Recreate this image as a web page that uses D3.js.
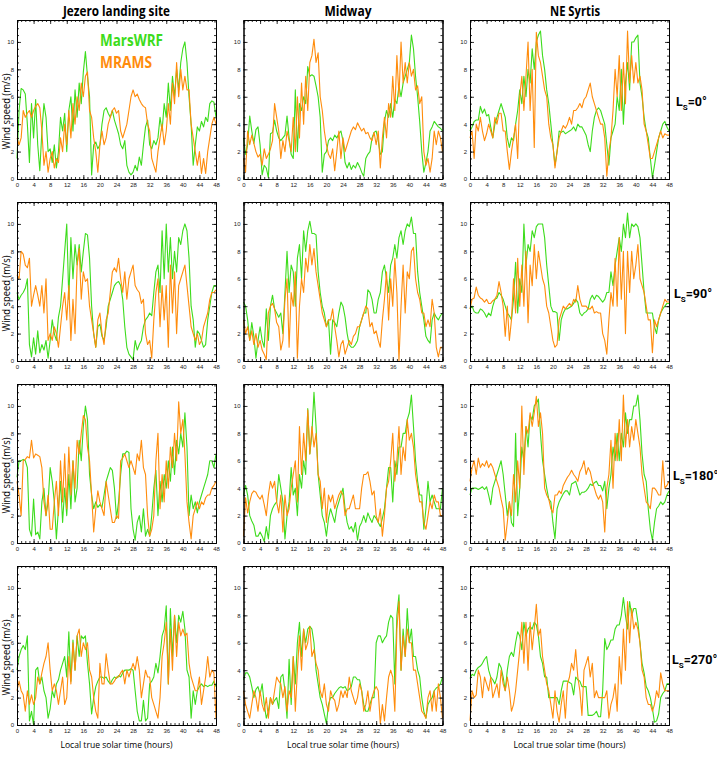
<!DOCTYPE html>
<html><head><meta charset="utf-8">
<script src="https://cdn.jsdelivr.net/npm/d3@7"></script>
<style>body{margin:0;background:#fff}</style>
</head><body>
<svg id="c" width="717" height="770"></svg>
<script>
const sites = ["Jezero landing site", "Midway", "NE Syrtis"];
const seasons = ["0°", "90°", "180°", "270°"];
const xTicks = [0, 4, 8, 12, 16, 20, 24, 28, 32, 36, 40, 44, 48];
const yTicks = [0, 2, 4, 6, 8, 10];
const seriesNames = ["MarsWRF", "MRAMS"];
const xTitle = "Local true solar time (hours)";
const yTitle = "Wind speed (m/s)";
const hours = d3.range(97).map(i => i * 0.5);

const wrfJez0 = [1.5,5,6.6,6.5,6.2,4,1.2,5.5, 3,5.8,2.5,0.6,3.5,5.5,4.5,2, 2.2,1.2,2.5,0.8,2,4.5,3.5,4.8, 2,5,6,3.5,6.5,4.5,7,5.5, 7.8,9.3,7.5,6,0.3,2.5,2.7,2.2, 2.5,4,5,5.2,4.8,4.5,5,4.3, 3.8,3.3,2.5,2.2,2.8,1,0.5,0.3, 0.5,1,0.6,1.6,1,2.5,3.8,4.3, 2.5,2.2,2.8,2.5,3,4.5,3.5,5.5, 4.5,7,5,7.5,6,8,6.5,8.5, 9.5,10,8.5,6,4,1,2.5,3.8, 3.5,4.2,3.8,4.5,4.2,5.5,5.7,5.6, 4.5];
const mramsJez0 = [3,2.5,3,5,4.5,4.8,5,4.5, 5,5.3,5.5,5.2,3.5,1,2,0.5, 1.5,2,0.8,1.5,1.2,3,2,4, 2.5,5,3,5.5,4,6,5,7, 6,7.5,7.8,5,4.5,3,2,0.5, 2.5,3.5,2.5,3,4,4.5,5,5.2, 4.8,5,3.5,3,3.5,4,5,6, 6.5,6,6.2,5.8,5.5,5.3,5.2,4, 3.5,1.5,1,0.5,2,3,4,2.5, 3.5,5.5,4,7,5.5,8.5,6,8, 6.5,7.5,6.5,6.5,4,3,2,1, 2,0.4,1.5,0.4,2,3,4,4.5, 4];
const wrfMid0 = [3,1.8,2.5,4.6,3.5,2.6,3.6,3.8, 2.5,0.3,1,0.8,0.1,3.3,3.4,4.3, 3.5,3,2.8,3,3.2,4.6,3,1.8, 1.5,6.5,2,5.5,5,6,5.5,8.2, 7.5,7.6,7.5,6.8,6,4.5,0.5,1.8, 2,2.8,3,2.8,3.2,3,3.3,3.5, 2.8,1.2,0.8,1.2,0.7,1,0.8,1.2, 0.9,0.5,0.2,1.5,1.8,2,3,3.4, 3.5,2.8,1.8,2,4.2,5,4.5,5.5, 4.5,5.8,5.5,6.8,6,7,7.5,8, 8.5,10.5,9.5,7.5,6,4.2,2,0.5, 1.2,2,3.5,3.8,4.2,4,3.8,3.7, 3.5];
const mramsMid0 = [1.5,0.5,3.5,2.5,3.2,2.6,2,1.6, 1.8,1,2.2,1.5,1.8,2.2,2.8,5.5, 4.5,3.5,1.5,2.8,2,3.5,2.8,2, 4.5,2,6,3,7,4,7.5,5, 8.5,9,10.2,8.5,9.2,6,5,3.5, 2.5,1.8,1.5,2.2,0.6,2,3.5,1.5, 3,2,2.5,3,3.5,3.8,3.6,4.1, 3.8,3.5,3.7,3.3,3.4,3,2.8,3.4, 2.5,3.5,0.8,3,4.5,3,5.5,4.5, 7.5,5,9,6,10,7,8.5,7, 8.5,7.5,8,6.5,6.8,5.5,6,2, 1,1.5,0.5,1.5,3.5,2.5,3.5,3, 2];
const wrfNes0 = [3.5,3.8,4.2,4.3,4.3,5.3,4.8,5.1, 4.6,4.7,3.8,3,4,4.5,5,5.5, 5,4.5,3,2.3,3,2.8,4,5, 6.5,5.5,7.5,6,8,7,9.5,8, 10,10.5,10.8,9,8,6.5,5.5,4, 2.5,1,2,3.5,3.4,3.5,3.3,3.4, 3.5,3.6,3.8,3.5,4,3.8,3.8,3.5, 3.2,2.5,2,3.5,4.5,5,5.2,5, 4.5,4,2.5,1,3,3.5,4,6, 5,8,4,7,8.5,6.5,10,10, 10.3,10.5,7,6,4.5,3.5,3,1.5, 0.1,1,2,3,3.5,4,4.2,3.8, 3.5];
const mramsNes0 = [3,3.5,1.5,4,3.5,4.5,3.5,2.8, 3.3,4,3.5,3,4.5,4,4.8,4.8, 3.5,3.5,2,0.7,2,3,4,1.5, 6,7.5,5,7.5,10,5,8,2.3, 10.7,9,8.5,7.5,6.5,6,4,3, 2.5,0.8,2,3,3.5,3.9,3.7,4, 4.5,4,5,5,5.2,5.5,5.2,5.8, 6,6.5,7,6,5.5,5,4.5,4, 4,3,0.2,2,3,5,8,6, 9,5,8.5,5.5,10.8,7,9,7, 8.5,7,7.5,6.5,4,3.5,2.5,1.5, 1.5,2,2.5,3,3.5,3,3.3,3.2, 3.2];

const wrfJez90 = [5,4.5,4.8,5,5.3,6,1.2,0.3, 1.7,0.5,2.2,0.6,1.2,0.8,1.5,0.2, 1.5,3,2,1.5,3.2,4,6,8, 10,4.5,9,6,8.5,7,8.5,6.5, 8,9.3,9.2,7.5,4,2,1,2.5, 2.7,1.8,1.5,2.5,4,4.5,5,5.5, 5.7,5.8,5.5,4.5,2.5,1,0.5,0.3, 0.1,1.5,0.8,1.2,1.5,2.5,3,3.2, 3.5,3.3,5,6.5,7,5,9.5,6, 10,6.5,9,6,8,6.5,9,8.5, 9.5,10,9.5,7.5,4,3,1,2.2, 2,1.5,1,1.2,3,4,5,5.5, 5.5];
const mramsJez90 = [6.3,6,8,7.8,7,6.8,7.5,4, 4.8,5.5,4.8,4,5.5,3.5,6,1.5, 2,1.5,2.5,2,1,2.5,4,5, 3,5.5,1.5,4.5,2,7,8.2,4.5, 6.5,5.8,6,4,3,2,1,3, 3.5,2,1.2,3,3.5,5,6.5,6.8, 6.5,7.5,6,5,6.5,4.5,6,6.5, 7,5.5,5.2,5,4.2,4.5,2,1.2, 1.5,0.2,3,5,6,2.5,5.5,3, 5.5,1,7,3.5,6.5,2,5.5,6, 6.5,7,5.5,4,2.5,2,1.5,2, 1.2,1.5,2.5,3,3.5,4.5,5,5, 5.2];
const wrfMid90 = [4.3,4,3,1.5,2.8,1.8,0.2,1.5, 2.5,1.5,1,3.8,1.5,4,4.8,3.8, 3.5,3.2,3.5,2,5,8,5,7, 6.5,4,7.5,8.5,6,9.5,8,9.5, 10.2,9.3,9.3,9.2,6.5,5,4,3.5, 2.5,3,0.5,3,2.8,2.5,3.5,4.3, 4,3.2,2,1.2,1,1,1.2,1.5, 2.5,3,3.5,3.5,5.2,5,4.5,3.5, 3.5,4.5,5,6.5,7,6,5,7, 7.5,8.5,7.5,9,9.5,8.5,9.5,10, 9.8,10.5,9.3,9.3,6.5,5,4,3, 1.8,1.5,1.3,3,3.5,3.2,3,3.3, 3.5];
const mramsMid90 = [3,2,2.5,1.5,2.2,1.2,2,1, 1.5,0.8,0.5,0.1,3.5,4,4.2,3.8, 2.8,2.5,0.8,1.5,4.5,6,1,5, 4,6.5,0.2,4,6,5,7.5,6.5, 8.5,7,8.2,6.5,5.5,4.5,3.5,3, 2.5,3,3,3.8,2.5,1.5,0.3,1.2, 1.5,0.5,1,1.5,1.2,1.8,2,2.5, 2.5,3,3.5,4,3.8,2.5,2.8,2, 2.2,1.5,1,3,4.5,6.5,3,6, 4,7.5,5,0,4,7,3.5,6.5, 6,8,8.3,6,5,4.5,3.5,3.5, 2.5,3,2.5,4.5,3.5,1,0.3,1, 1];
const wrfNes90 = [3.8,4,3.6,3.5,3.5,3.8,3.7,3.5, 3.2,3.5,3.3,4,4.5,4.6,5,4.8, 4.5,4,3.5,3.3,3,4.5,7.2,3.5, 6,5,10,7,8.5,8,9.5,9, 9.8,10,10,10,9,7,5.5,4, 3.6,3.6,3.5,1.5,3,3.5,3.8,3.8, 3.9,4,4.2,4.5,4.3,3.5,3.3,3.5, 3.6,3.8,4.5,4.8,4.5,4.8,4.7,4.5, 4.3,4.5,5,5,6.5,5.5,7,8, 9,8,10,9,10.8,9,10,9.8, 10,9.8,9,7,5,3.5,3.5,3.5, 3.5,2.5,2,3,3.5,3.8,4,4.2, 4.2];
const mramsNes90 = [3.8,4.5,4.6,5.4,4.8,4.6,4.5,4.3, 4.5,4.2,4.2,4.4,4.5,4.8,5.8,5, 4,1.8,4,1.5,3,6,3.5,7.5, 4,7,4,8,2.8,7,5.5,8.5, 6,8,7,6,5.5,4,3.5,2.5, 1.5,1,1.2,3,3.5,4,3.8,4, 4.2,4,4.5,4.3,5.5,4.5,4,4, 4,3.8,3.8,4,3.5,3.6,3.5,3.5, 2,1.5,0.5,3,5,4,7.5,4, 9,4.5,8,2,8,5,8,6, 7,8.5,6,5.5,5,4,3,3, 0.6,3,2.5,3,3.5,4,4.5,4.3, 4.3];

const wrfJez180 = [4.8,6,6,6.1,6,5.5,1,0.5, 3.2,0.6,0.8,0.3,3,4,2,3, 5.5,4.5,3,0.3,2.5,4.5,1.5,4, 2,5,2.5,6,3,4,7.5,6, 8.5,10,9,5,3.5,2.5,3,2.6, 2.8,2.6,3.5,4.5,5,5.5,5.3,4, 1.8,3,5,6.5,6.5,6.7,6.6,2.5, 1,0.2,1.5,2,0.8,2.5,0.5,1, 0.5,2,4,5.3,2,4.5,3,5, 4,6,4.5,7,5,7.5,6.5,8, 7,9.5,7,2,3.5,2.5,3,2.2, 3,3.5,4,4.5,5,6,6,5.5, 6.5];
const mramsJez180 = [4.5,3.5,2,6,6.1,6.3,6.2,7.5, 6.2,6.5,6.4,6.3,5.5,3,2,3.5, 1,1,3,4.5,2,6,3,6.5, 2.5,7,3.5,6,4,7.5,6.5,8, 9.3,9,7,6,3.5,0.8,2.5,3.8, 3,2.5,2,4.5,3.5,2.5,1.5,1.5, 2,1.8,6,6.2,6.5,6,5.5,6, 5.5,5,6.5,6,7.5,5.5,5,2, 0.5,1,2,6,8,2.5,5,3, 6,4,7,5.5,8,6,10.3,8, 9,6.5,3,1.5,0.3,2,2.5,3, 2.5,3,2.8,3.3,3.5,3.5,4,4.2, 4.5];
const wrfMid180 = [3.5,4.2,3.5,2,1.6,1.3,0.5,0.5, 0.8,0.5,0.1,1.2,0.3,2,2.5,2.8, 3,5,4,3,0.3,2,3,5.5, 3.5,4,2,5,4,6,5,9.8, 6.5,8,11,8.5,5,3.5,2,1.5, 0.5,1.8,2.5,2,1.5,2.5,3,3.5, 4,2.5,1.5,1,1.2,0.8,1.5,0.2, 1.2,1.5,2,1.5,2.2,1.8,1.5,2, 1.8,1.5,1.2,1.8,2.5,4,5.5,5.5, 3,6,5,7,7,8,8,9, 9.5,10.8,8.5,6,4.5,3.5,3.5,1, 2.5,4.5,3,3.5,3,2.5,2.5,2.5, 4];
const mramsMid180 = [0.5,3.3,2.2,3,3.6,3.8,3.7,3.4, 3.2,3.5,2.8,2,3.5,4.5,4,4.5, 3,2.2,3.5,0.8,3.5,2,2.5,4, 5,6,3,8.5,5,8,6,9.7, 6.5,8.5,7,8,5,4.5,2.5,4, 1.5,3.5,3,3.5,2.5,3,3.5,3.8, 3.5,2,2.5,2.5,3,3.5,2.5,2.5, 2.5,4,5,5,5.2,4.5,3.5,3.8, 2,1.5,2.5,0.5,2,4,4.5,6, 8,4.5,6,8.5,5,7,6,9, 7.5,8,7,5,4,3,3,1.5, 1,2,3,2.5,3.5,3,3,2, 2];
const wrfNes180 = [3.5,4,4,4,3.9,4,4.1,3.9, 4.1,3.5,2.8,4,4.5,5,5.5,6, 5,3.5,2,3,1.5,1.2,8,2, 4,7,6,8.5,7,9.3,9,10, 10.2,10.5,8,6,5,4,3.2,3, 1.5,0.3,2.5,3,3.3,3.6,3.8,3.8, 3.5,4.3,4.4,4.5,4,3.5,3.7,3.7, 3.8,4,4.3,4.2,4.4,4.5,4.2,4.2, 3.8,4.5,2.5,4,5,7,6,8, 6,8,7,9.5,8,9,9,10, 10,10.8,9,6.5,5,4.5,2.5,1, 0.2,1.5,2.5,2.7,3,2.8,3,3.5, 3.8];
const mramsNes180 = [4.5,5.5,6,5,6.2,5.5,5.8,5.6, 6,5.5,5.8,5.5,5,4.5,4,3.2, 2.5,0.2,1.5,3,2,5,3,6, 4,10,5,8.5,8,9.5,8.5,9.5, 10.7,8.5,9.5,8,4,3.5,3.2,2.5, 2.2,3.5,3.5,3.8,3.6,4.2,4.5,4.8, 5,5.3,5,4.8,4.5,5.2,5.5,6, 5,5.5,5.2,4.5,4,3.5,3.2,3.5, 3,0.8,4,5,7.5,4,8,6, 9,6,10.8,7,9,7,8.5,7.5, 9,8,7,5,4,3,2.8,2.5, 4,4,3.8,3.5,3.5,6,4,4.2, 4.5];

const wrfJez270 = [4,5,5.5,5.8,5.5,6.5,0.3,1, 0,4,4.2,3,3.5,2.5,2,0.5, 1.2,2.5,2,3,3.3,4,4.5,5, 3.5,6.8,3.2,6.2,4,6.5,5,6.5, 6.3,6.5,4.5,3,0.8,2,2.8,3.2, 3.5,3.5,3.4,3.5,3.2,3,3.3,3.5, 3.4,3.6,3.5,3.8,4,4,4,4.1, 4,2.5,1,0.3,0.3,1.8,0.3,0.5, 3,3.2,3.5,4.5,3.8,5,6.5,7, 8.7,3,8.5,5,8,6,8,7.5, 8.3,7,4,3.5,0.5,2.5,1.5,2.5, 2.8,3,2.8,2.9,2.8,2.9,2.9,3.2, 2.8];
const mramsJez270 = [2.5,3.2,2.5,2.2,1,2.5,1.5,2.2, 1.5,2,3.5,3,3.8,4.5,5,6, 4,2.5,3,2.5,1.5,2.5,3.5,1.5, 2,5,3,6,4,6.5,7,5, 6,5.5,6,4,3.5,2,1,0.5, 4.5,3,3,5.2,4,3,3,3.2, 3.5,3.5,3.8,4,3,4,3.5,4, 4.5,4,5,4,2,3,4,3.5, 3.5,2,1.5,1,0.5,2,5,6, 7.5,3,7,4,8,5,7.5,6.5, 7,6.5,6.7,4.5,3.5,3,2.5,2.5, 3.5,1.5,2.5,3.5,5,3.5,4,3.8, 0.5];
const wrfMid270 = [3.3,3.8,3.8,3.5,2.8,2,2.6,2.8, 2.2,3,1.5,0.5,1,2,1.5,1.8, 2,1.2,3.5,3.7,2.5,0.5,4.8,1.5, 5,3,6,7.5,5,7,6,7, 7.2,7,6,4,3,2,1.5,0.8, 0.1,1.5,2,2,2.3,2.5,2.7,2.8, 2.7,2.8,2.5,2.6,2.8,3.5,3.5,3.3, 3.3,2.5,1.5,1,1,1.5,2,2, 6,6.5,6.5,6,6.3,6.5,7.5,8, 7.8,3,8,9.5,4,7,5,8.5, 6,7,5,5,4,3.5,2,1, 0.5,1.5,1.8,2,2.5,2.7,2.8,3, 3.5];
const mramsMid270 = [2.5,1.5,1,0.5,1.5,2.5,2,1, 2.5,1.5,1,2,0.5,2,1.5,2.5, 3.5,3.2,3,2,2.8,1,2.5,2, 5,1,4,6.5,4,7,5.5,6, 7.2,5,5.5,4.5,4,2.5,2,3, 1.5,1,2.5,2,1.8,1,1.5,2.5, 2,2.5,2,3.5,2.5,2,1.5,2, 3,2.5,1,1.5,2.5,1,2,2.5, 2.8,2.5,0.1,1.5,0.3,2,3.5,4, 3.5,1,7,9,4,6.5,5,7, 6,6,4,4,3,2,1,0.8, 0.5,2,2.5,1,2.5,1,3,2, 0.5];
const wrfNes270 = [3.4,3.7,3.6,4,4.2,4.3,4.5,4.8, 5,4,3.5,3.3,3,3.5,4.5,4.2, 3.5,2.5,4,5,5.3,5,6,6.8, 6.5,5.5,7.5,6.5,7,7.2,7,7.5, 7.3,6.5,5,4.5,3.5,3.5,2,2, 2,2,2,1.5,2.5,3.2,3.2,3.2, 3.1,3,2.2,3.5,3.3,3.2,2.8,2.8, 2.8,0.7,0.7,0.7,0.8,1,0.6,0.6, 2.5,6.3,5.5,5.8,6.2,6.2,7,7.3, 7.3,8,9.3,8,7,9,8,8.5, 8.5,7.5,6,4.5,3.8,2.8,2.5,2, 1.2,0.2,0.3,0.8,2,2.3,2.5,3, 3];
const mramsNes270 = [0.3,2.5,2,2.2,4,3.5,2,3.5, 3,2.5,3.5,2,2.5,3,2,4, 3,2.5,3.5,2.5,1,1.5,2.5,4, 5.5,7.5,4.5,7.5,4,7.5,5.5,7, 8.8,6.5,7,5,4,3,2.5,1.5, 0.5,2.5,1,0.2,1.5,2.5,0.5,3, 3.5,4.5,4,5.5,3.5,2.5,0.7,4, 4.5,5,3.5,4.5,2,2.5,2,2, 2,2,2.5,0.5,1.5,2,3,1, 5,3,7,4,9,6,8.5,7, 7.5,7,6,4,3.5,2,1.5,1.5, 1,1.5,2.5,2,3.8,3,2.5,2.5, 2.5];

const wrfData = [
  [wrfJez0, wrfMid0, wrfNes0],
  [wrfJez90, wrfMid90, wrfNes90],
  [wrfJez180, wrfMid180, wrfNes180],
  [wrfJez270, wrfMid270, wrfNes270]
];
const mramsData = [
  [mramsJez0, mramsMid0, mramsNes0],
  [mramsJez90, mramsMid90, mramsNes90],
  [mramsJez180, mramsMid180, mramsNes180],
  [mramsJez270, mramsMid270, mramsNes270]
];

const GREEN = "#3ddc1c";
const ORANGE = "#ff8c0c";
const colLeft = [17, 243.5, 470];
const rowTop = [20, 202, 384, 566];
const W = 199, H = 159, YMAX = 11.6;
const svg = d3.select("#c");
const TF = "'Open Sans', 'Liberation Sans', sans-serif";

function styleAxis(g, labels) {
  g.select(".domain").attr("stroke", "#000").attr("stroke-width", 1);
  g.selectAll(".tick line").attr("stroke", "#000").attr("stroke-width", 0.8);
  g.selectAll(".tick text").attr("font-size", 6).attr("font-family", "'Liberation Sans', sans-serif").attr("fill", "#222");
  if (!labels) g.selectAll(".tick text").remove();
}

seasons.forEach((season, r) => {
  sites.forEach((site, c) => {
    const x = d3.scaleLinear().domain([0, 48]).range([colLeft[c], colLeft[c] + W]);
    const y = d3.scaleLinear().domain([0, YMAX]).range([rowTop[r] + H, rowTop[r]]);
    const g = svg.append("g");
    const line = d3.line().x((d, i) => x(hours[i])).y(d => y(d));
    g.append("path").datum(wrfData[r][c]).attr("d", line).attr("fill", "none")
      .attr("stroke", GREEN).attr("stroke-width", 1.1).attr("stroke-linejoin", "round");
    g.append("path").datum(mramsData[r][c]).attr("d", line).attr("fill", "none")
      .attr("stroke", ORANGE).attr("stroke-width", 1.1).attr("stroke-linejoin", "round");

    const minorX = d3.range(0, 49, 1);
    const minorY = d3.range(0, YMAX, 0.5);
    g.append("g").attr("transform", `translate(0,${rowTop[r] + H})`)
      .call(d3.axisBottom(x).tickValues(minorX).tickSize(-2).tickSizeOuter(0).tickFormat(""))
      .call(a => styleAxis(a, false));
    g.append("g").attr("transform", `translate(0,${rowTop[r] + H})`)
      .call(d3.axisBottom(x).tickValues(xTicks).tickSize(-4).tickSizeOuter(0).tickPadding(4).tickFormat(d3.format("d")))
      .call(a => styleAxis(a, true));
    g.append("g").attr("transform", `translate(0,${rowTop[r]})`)
      .call(d3.axisTop(x).tickValues(minorX).tickSize(-2).tickSizeOuter(0).tickFormat(""))
      .call(a => styleAxis(a, false));
    g.append("g").attr("transform", `translate(0,${rowTop[r]})`)
      .call(d3.axisTop(x).tickValues(xTicks).tickSize(-4).tickSizeOuter(0).tickFormat(""))
      .call(a => styleAxis(a, false));
    g.append("g").attr("transform", `translate(${colLeft[c]},0)`)
      .call(d3.axisLeft(y).tickValues(minorY).tickSize(-2).tickSizeOuter(0).tickFormat(""))
      .call(a => styleAxis(a, false));
    g.append("g").attr("transform", `translate(${colLeft[c]},0)`)
      .call(d3.axisLeft(y).tickValues(yTicks).tickSize(-4).tickSizeOuter(0).tickPadding(3).tickFormat(d3.format("d")))
      .call(a => styleAxis(a, true));
    g.append("g").attr("transform", `translate(${colLeft[c] + W},0)`)
      .call(d3.axisRight(y).tickValues(minorY).tickSize(-2).tickSizeOuter(0).tickFormat(""))
      .call(a => styleAxis(a, false));
    g.append("g").attr("transform", `translate(${colLeft[c] + W},0)`)
      .call(d3.axisRight(y).tickValues(yTicks).tickSize(-4).tickSizeOuter(0).tickFormat(""))
      .call(a => styleAxis(a, false));

    if (c === 0) {
      svg.append("text").attr("transform", `translate(10,${rowTop[r] + H / 2 + 12}) rotate(-90)`)
        .attr("text-anchor", "middle").attr("font-family", TF).attr("font-size", 10.5)
        .attr("textLength", 76).attr("lengthAdjust", "spacingAndGlyphs").text(yTitle);
    }
    if (r === 0) {
      const tw = [107, 47, 50][c];
      const cx = [116.5, 348, 575][c];
      svg.append("text").attr("x", cx).attr("y", 16).attr("text-anchor", "middle")
        .attr("font-family", TF).attr("font-weight", "bold").attr("font-size", 14)
        .attr("textLength", tw).attr("lengthAdjust", "spacingAndGlyphs").text(site);
    }
    if (r === seasons.length - 1) {
      svg.append("text").attr("x", colLeft[c] + W / 2).attr("y", rowTop[r] + H + 23).attr("text-anchor", "middle")
        .attr("font-family", TF).attr("font-size", 9.5)
        .attr("textLength", 112).attr("lengthAdjust", "spacingAndGlyphs").text(xTitle);
    }
  });
  const ly = [106, 298, 480, 664][r];
  const lx = [676, 674, 673, 672][r];
  const t = svg.append("text").attr("x", lx).attr("y", ly)
    .attr("font-family", "'Roboto', 'Liberation Sans', sans-serif")
    .attr("font-weight", "bold").attr("font-size", 12.5).attr("fill", "#000");
  t.append("tspan").text("L");
  t.append("tspan").attr("font-size", 8).attr("dy", 3.5).text("S");
  t.append("tspan").attr("dy", -3.5).text("=" + season);
});

svg.append("text").attr("x", 100).attr("y", 46).attr("font-family", TF).attr("font-weight", "bold")
  .attr("font-size", 16).attr("fill", GREEN).attr("textLength", 63).attr("lengthAdjust", "spacingAndGlyphs").text(seriesNames[0]);
svg.append("text").attr("x", 100).attr("y", 68).attr("font-family", TF).attr("font-weight", "bold")
  .attr("font-size", 16).attr("fill", ORANGE).attr("textLength", 52).attr("lengthAdjust", "spacingAndGlyphs").text(seriesNames[1]);
</script>
</body></html>
